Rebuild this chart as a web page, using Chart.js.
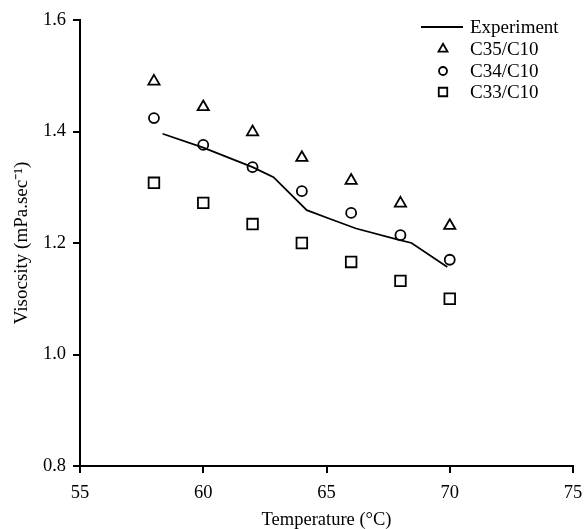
<!DOCTYPE html>
<html lang="en">
<head>
    <meta charset="UTF-8">
    <title>Viscosity vs Temperature</title>
    <script src="https://cdn.jsdelivr.net/npm/chart.js@4.4.4/dist/chart.umd.min.js"></script>
    <style>
        body { margin: 0; background: #fff; }
        #wrap { width: 588px; height: 529px; }
    </style>
</head>
<body>
    <div id="wrap"><canvas id="visc-chart" width="588" height="529"></canvas></div>

    <script>
        // model temperatures (°C)
        const temps = [58, 60, 62, 64, 66, 68, 70];

        // model viscosities (mPa.sec^-1)
        const c35 = [1.490, 1.444, 1.399, 1.353, 1.312, 1.271, 1.231];
        const c34 = [1.424, 1.376, 1.336, 1.293, 1.254, 1.214, 1.170];
        const c33 = [1.308, 1.272, 1.234, 1.200, 1.166, 1.132, 1.100];

        // experiment curve
        const expTemps = [58.35, 60, 62, 62.85, 64.2, 65.1, 66.2, 67.9, 68.45, 69.9];
        const expVisc  = [1.396, 1.371, 1.336, 1.318, 1.259, 1.244, 1.226, 1.206, 1.200, 1.157];

        const xTicks = [55, 60, 65, 70, 75];
        const yTicks = [0.8, 1.0, 1.2, 1.4, 1.6];

        const serif = 'Liberation Serif, Times New Roman, serif';

        function toPoints(xs, ys) {
            return xs.map((x, i) => ({ x: x, y: ys[i] }));
        }

        // legend drawn inside the plot, top right
        const cornerLegend = {
            id: 'cornerLegend',
            afterDraw(chart) {
                const ctx = chart.ctx;
                const x0 = 421, x1 = 463, mx = 443, tx = 470;
                const rows = [27, 49, 71, 92];
                ctx.save();
                ctx.font = '19px ' + serif;
                ctx.fillStyle = '#000';
                ctx.textBaseline = 'middle';
                chart.data.datasets.forEach((ds, i) => {
                    const y = rows[i];
                    if (ds.showLine) {
                        ctx.strokeStyle = '#000';
                        ctx.lineWidth = 2;
                        ctx.beginPath();
                        ctx.moveTo(x0, y);
                        ctx.lineTo(x1, y);
                        ctx.stroke();
                    } else {
                        ctx.strokeStyle = '#000';
                        ctx.fillStyle = '#fff';
                        ctx.lineWidth = 1.8;
                        Chart.helpers.drawPoint(ctx, {
                            pointStyle: ds.pointStyle,
                            radius: ds.pointRadius * 0.8,
                            borderWidth: 1.8
                        }, mx, y);
                        ctx.fillStyle = '#000';
                    }
                    ctx.fillText(ds.label, tx, y + 1);
                });
                ctx.restore();
            }
        };

        const ctx = document.getElementById('visc-chart').getContext('2d');
        new Chart(ctx, {
            type: 'scatter',
            data: {
                datasets: [
                    {
                        label: 'Experiment',
                        data: toPoints(expTemps, expVisc),
                        showLine: true,
                        borderColor: '#000',
                        borderWidth: 1.8,
                        pointRadius: 0,
                        tension: 0
                    },
                    {
                        label: 'C35/C10',
                        data: toPoints(temps, c35),
                        pointStyle: 'triangle',
                        pointRadius: 6.5,
                        borderColor: '#000',
                        backgroundColor: 'rgba(255,255,255,0)',
                        borderWidth: 1.8
                    },
                    {
                        label: 'C34/C10',
                        data: toPoints(temps, c34),
                        pointStyle: 'circle',
                        pointRadius: 5,
                        borderColor: '#000',
                        backgroundColor: 'rgba(255,255,255,0)',
                        borderWidth: 1.8
                    },
                    {
                        label: 'C33/C10',
                        data: toPoints(temps, c33),
                        pointStyle: 'rect',
                        pointRadius: 7.5,
                        borderColor: '#000',
                        backgroundColor: 'rgba(255,255,255,0)',
                        borderWidth: 1.8
                    }
                ]
            },
            options: {
                responsive: false,
                animation: false,
                layout: { padding: { top: 20, right: 15, left: 0, bottom: 0 } },
                plugins: {
                    legend: { display: false },
                    tooltip: { enabled: false }
                },
                scales: {
                    x: {
                        type: 'linear',
                        min: 55,
                        max: 75,
                        afterBuildTicks: s => { s.ticks = xTicks.map(v => ({ value: v })); },
                        afterFit: s => { s.height = 63; s.paddingRight = 0; },
                        border: { color: '#000', width: 2 },
                        grid: { drawOnChartArea: false, color: '#000', lineWidth: 2, tickLength: 7 },
                        ticks: { color: '#000', font: { family: serif, size: 18.5 }, padding: 9 },
                        title: {
                            display: true,
                            text: 'Temperature (°C)',
                            color: '#000',
                            font: { family: serif, size: 18.5 },
                            padding: { top: 0, bottom: -2 }
                        }
                    },
                    y: {
                        min: 0.8,
                        max: 1.6,
                        afterBuildTicks: s => { s.ticks = yTicks.map(v => ({ value: v })); },
                        afterFit: s => { s.width = 80; },
                        border: { color: '#000', width: 2 },
                        grid: { drawOnChartArea: false, color: '#000', lineWidth: 2, tickLength: 7 },
                        ticks: {
                            color: '#000',
                            font: { family: serif, size: 18.5 },
                            padding: 7,
                            callback: v => v.toFixed(1)
                        },
                        title: {
                            display: true,
                            text: 'Visocsity (mPa.sec\u207B\u00B9)',
                            color: '#000',
                            font: { family: serif, size: 19 },
                            padding: { top: 11, bottom: 0 }
                        }
                    }
                }
            },
            plugins: [cornerLegend]
        });
    </script>
</body>
</html>
